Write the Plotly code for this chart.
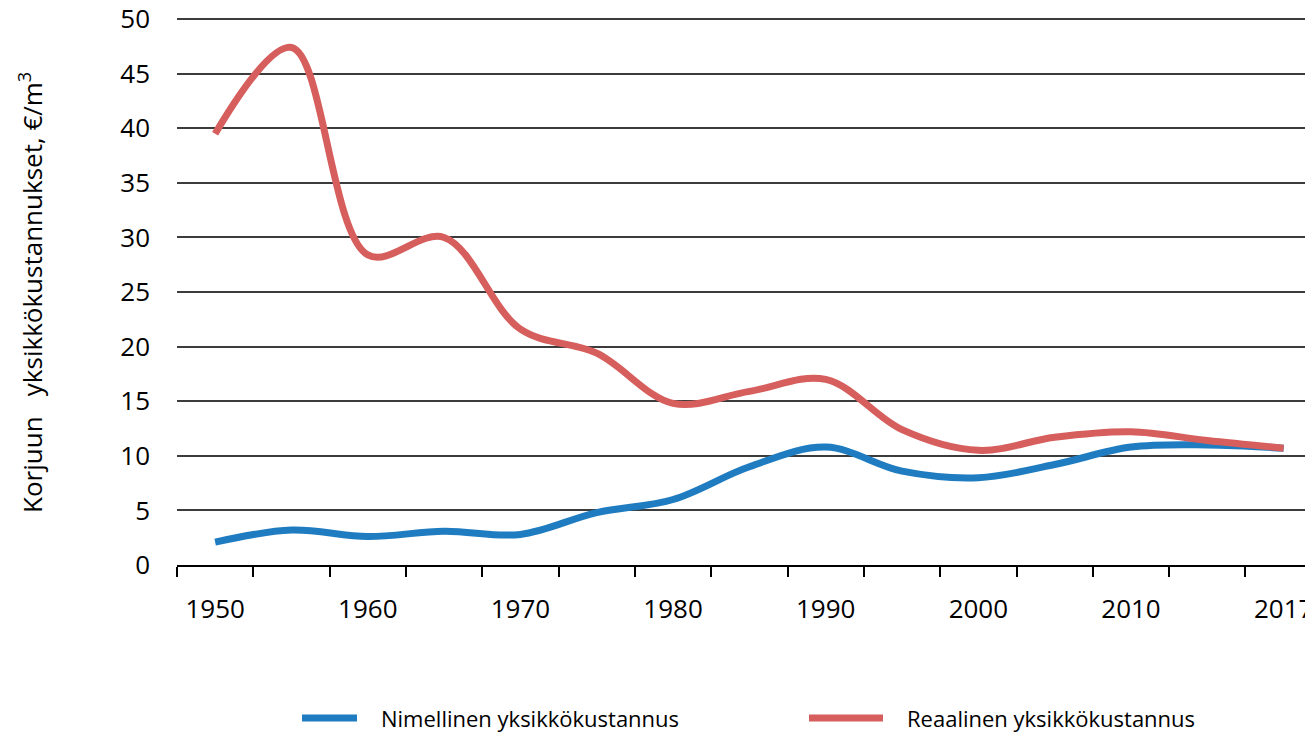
import plotly.graph_objects as go

# ---- data ----
years = ["1950", "1955", "1960", "1965", "1970", "1975", "1980", "1985",
         "1990", "1995", "2000", "2005", "2010", "2015", "2017"]
label_years = ["1950", "1960", "1970", "1980", "1990", "2000", "2010", "2017"]
nominal = [2.1, 3.2, 2.6, 3.1, 2.8, 4.8, 6.0, 9.0, 10.8, 8.6, 8.0, 9.2, 10.8, 11.0, 10.7]
real = [39.5, 47.4, 28.4, 30.0, 21.6, 19.4, 14.8, 15.9, 17.0, 12.4, 10.5, 11.7, 12.2, 11.4, 10.7]
series_names = ["Nimellinen yksikkökustannus", "Reaalinen yksikkökustannus"]
y_title = "Korjuun\u00a0\u00a0 yksikkökustannukset, \u20ac/m<sup>3</sup>"

BLUE = "#1F7CC0"
RED = "#D65F5E"
FONT = "Open Sans"

OFF = 8  # page body margin
W, H = 1313 - OFF, 732 - OFF
L, T = 177 - OFF, 18 - OFF
R = 0
B = H - (565 - OFF)
PW, PH = W - L - R, H - T - B
YMAX = 50.1


def px_x(p):  # page px -> paper x
    return (p - OFF - L) / PW


def px_y(p):  # page px -> paper y
    return (H - B - (p - OFF)) / PH


xi = list(range(len(years)))
label_idx = [years.index(y) for y in label_years]

fig = go.Figure()
for vals, name, col in [(nominal, series_names[0], BLUE), (real, series_names[1], RED)]:
    fig.add_trace(go.Scatter(
        x=xi, y=vals, name=name, mode="lines", customdata=years,
        hovertemplate="%{customdata}: %{y}<extra>" + name + "</extra>",
        line=dict(color=col, width=7, shape="spline", smoothing=1.0),
        showlegend=False,
    ))

fig.update_layout(
    width=W, height=H,
    margin=dict(l=L, r=R, t=T, b=B, autoexpand=False),
    paper_bgcolor="white", plot_bgcolor="white",
    font=dict(family=FONT, color="black", size=26),
    xaxis=dict(
        range=[-0.5, -0.5 + PW / 76.32],
        tickmode="array", tickvals=label_idx, ticktext=label_years,
        ticks="", ticklabelstandoff=20, ticklabeloverflow="allow",
        showline=True, linecolor="black", linewidth=2,
        showgrid=False, zeroline=False,
        minor=dict(tickmode="array", tickvals=[i - 0.5 for i in range(len(years) + 1)],
                   ticks="outside", ticklen=10, tickwidth=2, tickcolor="black", showgrid=False),
        tickfont=dict(size=26, family=FONT),
    ),
    yaxis=dict(
        range=[0, YMAX], tickmode="array", tickvals=list(range(0, 51, 5)),
        showgrid=True, gridcolor="#3c3c3c", gridwidth=2,
        zeroline=False, showline=False, ticks="", ticklabelstandoff=26,
        ticklabeloverflow="allow",
        tickfont=dict(size=26, family=FONT),
    ),
)

# y-axis title
fig.add_annotation(
    text=y_title, textangle=-90, xref="paper", yref="paper",
    x=px_x(31), y=px_y(293), xanchor="center", yanchor="middle",
    showarrow=False, font=dict(size=26, family=FONT, color="black"),
)

# manual legend
legend_y = px_y(718)
for (x0, x1, tx), name, col in [((302, 357, 379), series_names[0], BLUE),
                                ((809, 883, 905), series_names[1], RED)]:
    fig.add_shape(type="line", xref="paper", yref="paper",
                  x0=px_x(x0), x1=px_x(x1), y0=legend_y, y1=legend_y,
                  line=dict(color=col, width=7))
    fig.add_annotation(text=name, xref="paper", yref="paper",
                       x=px_x(tx), y=legend_y, xanchor="left", yanchor="middle",
                       showarrow=False, font=dict(size=22, family=FONT, color="black"))

fig.write_html("out.html")
